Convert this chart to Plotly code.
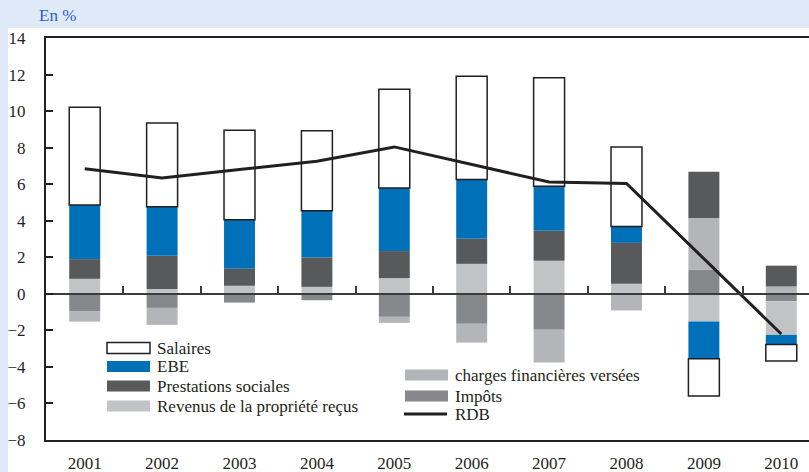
import plotly.graph_objects as go

## Contributions a la croissance du RDB (en %)
annees = ['2001', '2002', '2003', '2004', '2005', '2006', '2007', '2008', '2009', '2010']
salaires = [5.35, 4.58, 4.90, 4.38, 5.41, 5.66, 5.94, 4.35, -2.03, -0.91]
ebe = [2.96, 2.69, 2.68, 2.56, 3.45, 3.24, 2.43, 0.90, -2.04, -0.52]
prestations = [1.08, 1.81, 0.93, 1.61, 1.48, 1.37, 1.64, 2.24, 2.53, 1.14]
revenus = [0.82, 0.27, 0.44, 0.38, 0.86, 1.64, 1.81, 0.55, -1.52, -1.85]
impots = [-0.97, -0.77, -0.48, -0.35, -1.26, -1.64, -1.97, 0.0, 1.32, -0.40]
charges = [-0.55, -0.93, 0.0, 0.0, -0.33, -1.03, -1.79, -0.91, 2.83, 0.40]
rdb = [6.85, 6.34, 6.80, 7.25, 8.04, 7.10, 6.12, 6.04, 1.90, -2.20]

noir = '#231f20'
bleu_fond = '#dfe9f7'
police = 'Liberation Serif'

# zone de trace en pixels (809x472)
L, R, T, B = 46, 809, 38, 440
def px(x):
    return (x - L) / (R - L)
def py(y):
    return (B - y) / (B - T)

fig = go.Figure()
fig.add_trace(go.Bar(x=annees, y=impots, name='Impôts', marker=dict(color='#87888b', line=dict(width=0))))
fig.add_trace(go.Bar(x=annees, y=revenus, name='Revenus de la propriété reçus', marker=dict(color='#c2c3c5', line=dict(width=0))))
fig.add_trace(go.Bar(x=annees, y=charges, name='charges financières versées', marker=dict(color='#b4b5b8', line=dict(width=0))))
fig.add_trace(go.Bar(x=annees, y=prestations, name='Prestations sociales', marker=dict(color='#58595b', line=dict(width=0))))
fig.add_trace(go.Bar(x=annees, y=ebe, name='EBE', marker=dict(color='#0070b9', line=dict(width=0))))
fig.add_trace(go.Bar(x=annees, y=salaires, name='Salaires', marker=dict(color='white', line=dict(color=noir, width=1.5))))
fig.add_trace(go.Scatter(x=annees, y=rdb, name='RDB', mode='lines', line=dict(color=noir, width=3)))
# axe auxiliaire pour la ligne du zero avec ses graduations
fig.add_trace(go.Scatter(x=[], y=[], xaxis='x2', showlegend=False, hoverinfo='skip'))

fig.update_layout(barmode='relative', bargap=0.6, showlegend=False,
                  width=809, height=472, autosize=False,
                  margin=dict(l=L, r=809 - R, t=T, b=472 - B),
                  paper_bgcolor=bleu_fond, plot_bgcolor='white',
                  font=dict(family=police, size=17, color=noir))

fig.update_xaxes(type='category', range=[-0.5, 9.358], showline=True, linecolor=noir, linewidth=2,
                 mirror=True, ticks='', showgrid=False, zeroline=False,
                 tickfont=dict(size=17, color=noir), ticklabelstandoff=7)
fig.update_yaxes(range=[-8, 14], dtick=2, showline=True, linecolor=noir, linewidth=2,
                 ticks='inside', ticklen=7, tickwidth=2, tickcolor=noir,
                 showgrid=False, zeroline=False, tickfont=dict(size=17, color=noir),
                 ticklabelstandoff=15)
fig.update_layout(xaxis2=dict(overlaying='x', anchor='free', position=8 / 22, side='bottom',
                              range=[-0.5, 9.358], tickvals=[i + 0.5 for i in range(9)],
                              ticks='inside', ticklen=7, tickwidth=1.5, tickcolor='#3b3b3b',
                              showline=True, linecolor='#3b3b3b', linewidth=1.5,
                              showticklabels=False, showgrid=False, zeroline=False))

# fond blanc sous le graphique
shapes = [dict(type='rect', xref='paper', yref='paper', x0=px(8), x1=px(815), y0=py(480), y1=py(28),
               fillcolor='white', line=dict(width=0), layer='below')]
annots = [dict(text='En %', xref='paper', yref='paper', x=px(37), y=py(16), xanchor='left',
               yanchor='middle', showarrow=False, font=dict(family=police, size=17, color='#2b5fcf'))]

# legende (deux colonnes)
leg = [('Salaires', 'white', noir, 107, 348),
       ('EBE', '#0070b9', None, 107, 366.5),
       ('Prestations sociales', '#58595b', None, 107, 386),
       ('Revenus de la propriété reçus', '#c2c3c5', None, 107, 406),
       ('charges financières versées', '#b4b5b8', None, 405, 375),
       ('Impôts', '#87888b', None, 405, 396)]
for nom, coul, bord, x, y in leg:
    shapes.append(dict(type='rect', xref='paper', yref='paper', x0=px(x), x1=px(x + 43),
                       y0=py(y + 5.5), y1=py(y - 5.5), fillcolor=coul,
                       line=dict(color=bord, width=1.5) if bord else dict(width=0)))
    annots.append(dict(text=nom, xref='paper', yref='paper', x=px(x + 48), y=py(y), xanchor='left',
                       yanchor='middle', showarrow=False, font=dict(family=police, size=17, color=noir)))
shapes.append(dict(type='line', xref='paper', yref='paper', x0=px(404), x1=px(447), y0=py(414), y1=py(414),
                   line=dict(color=noir, width=3)))
annots.append(dict(text='RDB', xref='paper', yref='paper', x=px(453), y=py(414), xanchor='left',
                   yanchor='middle', showarrow=False, font=dict(family=police, size=17, color=noir)))

fig.update_layout(shapes=shapes, annotations=annots)
fig.write_html("out.html", config={'displayModeBar': False},
               post_script="document.body.style.margin='0';document.body.style.overflow='hidden';")
